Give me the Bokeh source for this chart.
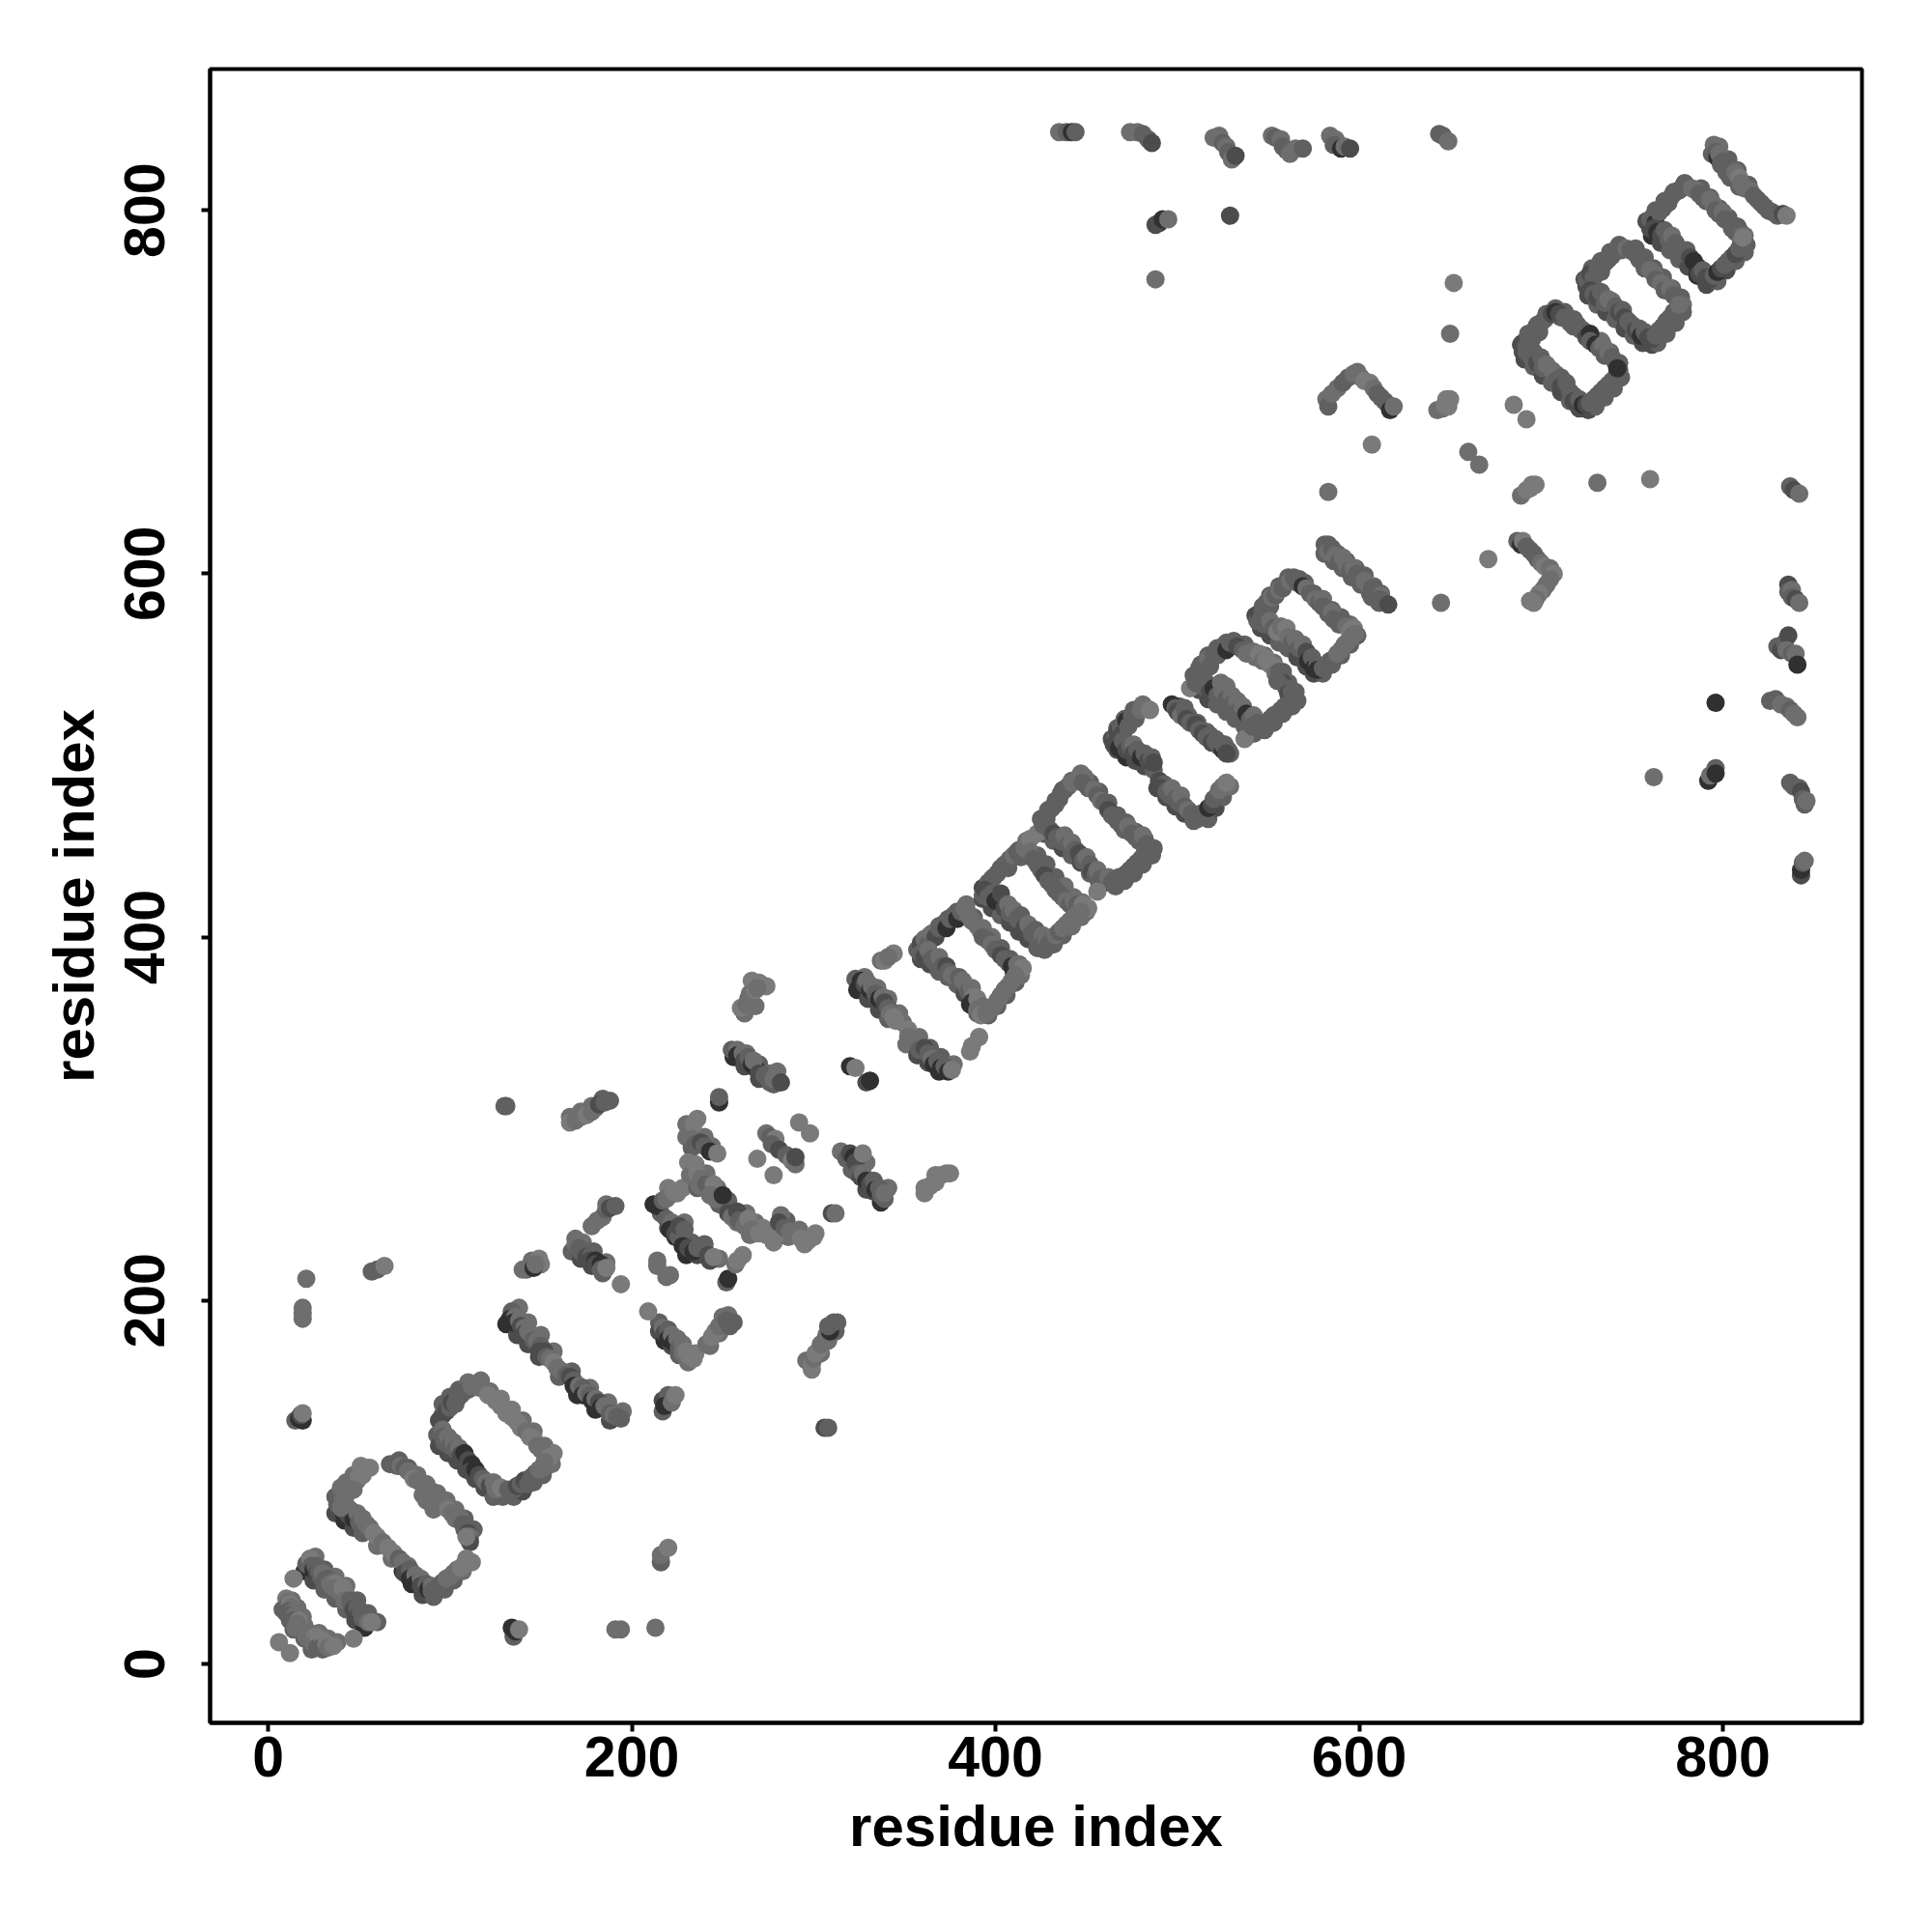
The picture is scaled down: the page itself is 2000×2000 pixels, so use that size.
from bokeh.plotting import figure
from bokeh.embed import file_html
from bokeh.resources import INLINE
from bokeh.models import ColumnDataSource, FixedTicker, LinearColorMapper

axis_title = "residue index"
tick_values = [0, 200, 400, 600, 800]

# (residue x, residue y, contact score 1..5)
under_start = [(8,30,3),(10,28,3),(12,24,3),(14,19,3),(13,35,2),(16,31,2),(19,26,2),(20,21,2),(20,14,3),(24,8,3),(30,8,3),(28,17,2),(33,14,2),(38,12,2),
 (26,59,2),(31,52,3),(37,48,2),(43,43,2),(49,35,3),(55,28,3),(60,23,3),(20,51,5),(25,46,4),(31,41,3),(37,36,3),(43,30,3),(48,24,4),(53,20,5)]
under_hairpins = [(72,112,3),(77,108,3),(82,104,2),(87,99,2),(93,94,2),(98,90,2),(103,85,2),(108,80,3),(113,74,3),
 (37,83,4),(42,79,5),(47,75,4),(52,72,3),(60,65,2),(68,58,2),(74,51,5),(79,44,5),(85,38,4),(91,37,3),
 (37,92,3),(40,97,2),(43,100,2),(47,104,2),(51,109,1),(97,41,3),(102,46,3),(107,51,2),(112,56,1),
 (94,134,4),(96,143,3),(100,147,3),(105,151,3),(110,155,2),
 (117,156,2),(122,150,2),(128,146,1),(134,140,1),(140,134,2),(146,128,2),(152,120,2),(157,116,1),
 (93,126,3),(94,120,4),(99,116,4),(104,112,4),(109,107,4),(114,102,4),(119,97,4),(124,92,3),(129,92,3),
 (135,92,3),(140,95,4),(146,100,3),(151,104,3),(156,110,2),
 (138,196,2),(143,188,2),(150,181,2),(157,172,2),(167,161,3),(177,152,2),(187,144,2),(195,139,2),(131,187,5),(137,181,4),(143,176,4),(149,169,4),(160,158,3),(170,148,5),(180,140,5),(188,134,4)]
under_central = [(166,301,2),(172,304,2),(178,307,2),(184,311,3),(263,336,2),(270,330,3),(276,325,2),(256,334,5),(262,329,4),(270,322,4),(278,319,3),
 (262,358,2),(268,362,2),(274,373,1),(266,376,1),(323,377,3),(328,378,2),(335,372,2),(341,366,2),(347,358,2),(349,353,2),(324,371,5),(330,366,4),(336,360,4),(341,355,3),
 (351,341,2),(358,345,2),(364,339,3),(370,334,3),(377,330,2),(352,349,1),(357,335,4),(363,331,4),(369,326,5),
 (169,234,2),(173,232,2),(179,227,3),(186,221,2),(167,227,3),(172,223,4),(178,219,4),(184,215,3),
 (220,262,1),(228,262,1),(216,248,3),(220,240,4),(224,235,5),(229,243,2),(233,232,3),(230,225,5),(236,225,4),(240,231,3),(248,223,2),(243,222,4),
 (230,297,2),(230,290,2),(233,284,3),(240,290,2),(244,285,2),(231,276,1),(232,269,2),(236,262,3),(241,270,2),(247,262,2),(248,253,3),(253,255,3),(253,248,4),(258,243,2),(263,248,2),(268,243,2),(265,236,2),(272,240,1),(278,232,1),(285,244,3),(286,235,2),(292,239,2),(295,231,1),
 (315,282,2),(318,278,3),(321,272,3),(326,274,3),(329,276,2),(333,260,4),(329,261,4),(337,254,5),(341,262,2),(339,256,3),
 (215,188,3),(215,183,4),(218,178,5),(222,175,4),(226,170,3),(231,166,2),(235,171,1),(234,168,1),(243,175,2),(248,182,2),(253,192,2),(256,188,3),(250,191,2),
 (299,162,1),(296,167,2),(304,171,2),(308,178,2),(312,183,3),(313,188,3)]
under_c_d = [(359,397,3),(364,401,3),(369,406,3),(374,410,3),(379,414,3),(384,418,2),
 (388,411,3),(393,405,2),(398,400,2),(403,394,3),(408,388,3),(413,385,2),
 (359,388,4),(364,385,4),(369,381,3),(374,378,3),(379,374,3),(383,369,4),(386,363,5),(390,358,3),
 (396,357,3),(401,362,3),(406,368,3),(411,375,3),(414,379,2),
 (393,427,4),(398,432,3),(403,438,3),(408,443,3),(413,448,2),(417,453,2),
 (393,421,4),(398,416,4),(403,412,3),(408,408,4),(413,403,4),(418,399,4),(423,394,3),(427,393,3),
 (423,445,3),(428,440,3),(433,433,3),(438,428,2),(443,422,2),(448,419,2),
 (432,396,3),(437,401,3),(442,406,2),(447,411,2),(450,414,2),
 (425,465,3),(429,470,3),(433,475,3),(437,481,3),(442,486,3),(447,490,2),
 (452,485,3),(457,480,3),(462,474,3),(467,467,3),(472,463,3),(477,458,3),(482,454,3),(487,449,3),
 (427,457,4),(432,453,3),(437,449,4),(442,445,3),(447,441,4),(452,435,3),(457,430,3),
 (466,428,3),(471,431,3),(476,435,3),(481,440,3),(486,445,3)]
under_e_f_g = [(464,509,4),(467,515,3),(471,520,3),(476,525,3),(481,528,2),
 (467,503,4),(472,499,5),(477,497,4),(482,494,4),(487,492,3),
 (501,527,3),(506,522,3),(511,518,3),(516,513,3),(521,509,3),(526,506,3),(529,501,3),
 (489,482,4),(494,477,4),(499,472,4),(504,468,4),(509,464,3),
 (517,465,3),(521,471,4),(525,477,3),(529,483,2),
 (509,544,3),(513,550,3),(517,555,3),(522,559,3),(527,562,3),
 (537,561,3),(542,557,2),(548,555,2),(553,551,2),(558,546,3),(561,540,3),(565,535,3),
 (512,536,4),(517,531,4),(522,528,3),(527,524,3),(532,520,3),(537,516,3),(542,512,3),
 (548,514,3),(553,518,3),(558,523,3),(563,527,3),(566,530,3),
 (543,577,4),(547,582,3),(551,588,3),(556,593,3),(561,598,3),
 (570,595,3),(575,589,3),(580,586,3),(585,580,3),(590,576,3),(595,572,2),
 (546,570,4),(551,566,4),(556,562,3),(561,559,3),(566,554,4),(571,549,4),(575,545,4),
 (580,545,3),(585,550,3),(590,555,3),(595,561,3),(599,566,3),
 (583,616,3),(588,611,3),(593,607,3),(598,603,3),(603,599,3),(608,593,3),(612,589,3),(581,611,3),(586,607,3),(591,603,3),(596,598,3),(601,594,3),(606,589,3),(611,584,3)]
under_l_k_j = [(689,726,4),(693,732,3),(698,737,3),(703,743,3),(708,746,3),
 (713,744,3),(718,740,3),(723,734,3),(728,730,3),(733,728,2),(738,722,3),(743,716,3),(743,712,3),
 (691,718,4),(696,714,3),(701,709,4),(706,705,3),(711,700,4),(716,695,3),(721,691,4),(726,690,4),
 (730,692,3),(735,697,3),(740,702,3),(744,708,3),
 (724,762,4),(728,768,3),(733,772,3),(738,777,3),(743,781,3),
 (752,779,3),(757,774,3),(762,768,3),(767,763,3),(772,757,3),(777,752,3),(778,748,2),
 (726,753,4),(731,748,3),(736,744,4),(741,740,3),(746,735,4),(751,731,3),(756,727,4),(761,726,4),
 (764,727,3),(769,732,3),(774,738,3),(778,744,3),
 (758,794,4),(763,800,3),(768,805,3),(773,810,3),(779,815,3),
 (788,812,3),(793,807,3),(798,801,3),(803,796,3),(808,791,3),(812,786,2),
 (761,786,5),(766,782,4),(771,778,3),(776,773,3),(781,769,4),(786,764,5),(791,759,4),
 (797,761,3),(802,767,4),(807,772,3),(812,777,3),(813,781,3),
 (798,835,2),(803,828,3),(808,822,3),(814,814,3),(794,831,3),(799,825,3),(804,818,3),(809,813,3)]
start_cluster = [(6,12,1),(12,6,1),(14,47,1),(47,14,1),
 (10,36,1),(11,34,2),(10,31,3),(12,33,1),(13,31,2),(11,29,3),(14,29,2),(12,27,3),(15,27,2),(16,25,2),(14,24,3),(17,24,1),(16,22,2),(15,20,2),
 (23,17,2),(21,15,2),(24,13,2),(26,15,1),(25,11,2),(28,14,1),(27,9,3),(30,13,1),(29,9,3),(32,11,1),(33,9,2),(36,10,1),
 (21,55,3),(23,58,1),(24,54,3),(25,52,5),(26,54,3),(27,50,4),(28,51,3),(29,48,3),(30,50,2),(31,46,3),(33,47,3),(34,44,2),(36,45,2),(37,44,1),(36,42,2),
 (39,40,2),(41,42,1),(43,38,1),(42,35,2),(45,35,3),(46,32,3),(47,30,4),(49,31,3),(50,27,4),(51,29,3),(52,25,3),(53,26,3),(55,23,2),(57,23,1)]
hairpin_one = [(38,88,3),(40,86,4),(41,84,5),(41,90,2),(43,87,5),(44,82,4),(45,85,2),(47,80,5),(49,83,2),(50,78,3),(52,80,2),(54,77,2),(56,75,2),(58,72,1),(60,70,1),(63,67,2),(66,64,1),(69,61,1),(72,58,3),(74,56,2),(77,54,2),(75,50,4),(78,52,3),(78,47,5),(81,49,2),(81,44,5),(84,47,2),(84,43,4),(87,44,3),(88,41,5),(90,43,2),(90,40,3),(93,42,3),
 (40,86,2),(42,90,2),(43,93,2),(44,95,2),(45,98,2),(47,100,2),(49,101,2),(50,103,1),(52,105,1),(53,107,1),(55,108,1),(56,108,1),(52,104,1),(47,96,2),
 (67,110,3),(69,110,3),(71,109,3),(73,109,2),(75,108,3),(77,106,2),(79,105,2),(80,102,1),(82,101,2),(84,100,2),(86,97,2),(88,95,2),(90,95,2),(85,93,2),(87,90,2),(90,88,2),(91,85,2),(93,88,2),(95,87,2),(97,88,2),(99,85,1),(101,83,2),(103,80,2),(105,81,2),(107,77,3),(108,74,3),(110,72,4),(111,70,2),(111,67,4),(109,70,1),
 (94,43,3),(96,45,3),(98,47,2),(100,48,2),(102,50,2),(104,52,2),(106,53,1),(108,55,1),(109,58,1)]
hairpin_two = [(96,137,4),(97,141,3),(98,139,4),(100,141,3),(101,144,4),(103,143,3),(104,146,3),(106,148,3),(108,150,3),(110,151,3),(112,153,2),(114,154,2),(116,152,2),
 (121,148,1),(125,145,1),(128,142,1),(131,138,1),(134,136,1),(137,133,1),(139,130,1),(142,128,2),(144,125,1),(146,124,1),(148,120,2),(150,118,2),(152,116,2),(155,114,1),(153,112,1),
 (96,129,2),(96,125,3),(97,122,3),(99,125,2),(100,120,3),(102,122,2),(103,118,3),(105,119,2),(106,115,4),(108,116,5),(110,112,4),(112,110,5),(111,106,4),(114,107,5),(116,104,4),(118,102,3),(120,100,2),(122,98,4),(124,100,2),(125,96,2),(128,97,1),
 (132,96,3),(135,96,3),(137,98,4),(139,99,3),(141,101,4),(143,99,3),(145,103,3),(147,105,3),(149,107,2),(151,108,2),(152,111,2)]
strand_three = [(134,194,3),(133,190,5),(136,191,2),(135,188,5),(138,189,2),(139,186,4),(141,185,2),(141,182,4),(143,183,2),(145,181,2),(146,178,3),(148,178,2),(150,175,3),(149,172,4),(152,172,4),(153,169,3),(155,168,2),(157,166,1),(159,163,2),(162,161,2),(164,159,3),(166,158,4),(168,156,3),(168,153,5),(171,153,2),(173,152,3),(173,148,5),(175,149,2),(177,148,3),(178,145,5),(180,146,2),(182,144,4),(183,141,5),(185,142,2),(187,140,2),(188,138,3),(190,137,2),(192,136,3),(194,135,3)]
offdiag_left = [(15,134,3),(19,134,5),(17,135,5),(18,137,4),(19,138,1),(19,190,2),(19,193,2),(19,196,2),(21,212,2),(57,216,3),(60,217,3),(64,219,1),
 (135,15,3),(134,20,5),(136,18,5),(138,19,1),(191,19,2),(194,19,2),(213,20,2),(216,56,3),(216,60,2),(220,64,1),
 (130,307,3),(131,307,3),(306,130,4),(308,130,3)]
central_cluster = [(194,209,1),(209,194,1),(145,222,2),(149,223,1),(150,220,1),(142,217,3),(140,217,2),(146,218,5),(147,220,2),
 (169,231,2),(171,229,3),(172,227,3),(175,227,3),(175,224,4),(178,225,3),(177,222,4),(180,222,5),(180,220,4),(183,220,5),(183,217,3),(186,218,1),
 (178,241,2),(181,244,2),(184,246,2),(186,250,3),(186,253,2),(188,251,4),(191,252,3),
 (212,253,5),(214,252,5),(217,255,3),(219,256,2),(221,258,2),(225,259,1),(223,260,1),
 (219,245,3),(222,243,2),(221,239,5),(224,237,4),(226,235,3),(226,241,4),(229,239,3),
 (228,230,5),(231,229,4),(234,227,5),(236,229,3),(240,228,3),(242,225,4),(245,224,1),
 (214,222,2),(214,219,2),(219,213,2),(221,214,2),(252,210,3),(253,212,5),(257,220,2),(258,222,1),(261,225,1),
 (232,293,2),(234,297,1),(236,300,1),(233,289,2),(235,286,3),(238,287,4),(240,285,3),(243,282,5),(247,281,1),
 (235,275,1),(236,270,1),(238,267,2),(237,263,2),(241,264,3),(245,264,1),(243,258,2),(246,256,2),(250,258,5),
 (255,246,2),(258,249,4),(259,244,3),(262,241,2),(264,245,1),(266,239,2),(270,237,1),(274,236,1),(279,236,1),
 (282,247,2),(281,243,4),(284,240,3),(287,238,2),(290,236,2),(293,234,1),(297,233,1),(300,235,1),(301,237,1),
 (310,248,4),(312,248,2),(320,281,4),(322,279,5),(323,276,4),(327,281,1),(324,270,3),(326,268,4),(327,270,2),(329,266,5),(331,264,4),(333,266,3),(334,261,5),(336,262,3),(337,258,3),(339,259,2),
 (361,259,1),(361,262,1),(364,263,1),(367,265,1),(367,269,1),(370,269,1),(373,270,1),(375,270,1),
 (241,176,2),(244,180,1),(246,183,1),(248,186,2),(250,188,2),(252,189,3),(254,186,3),
 (217,185,2),(218,182,4),(220,184,3),(220,179,5),(222,181,2),(223,177,5),(225,179,2),(226,174,3),(228,176,2),(228,171,2),(230,172,1),(232,169,1),
 (217,139,3),(217,145,4),(220,148,3),(218,142,5),(222,144,2),(224,148,1),
 (299,165,1),(300,168,2),(301,171,1),(303,173,1),(304,176,2),(306,178,2),(307,181,2),(309,183,5),(308,186,3),(311,188,3),
 (248,309,5),(248,312,3)]
upper_cluster = [(166,298,1),(169,299,2),(172,301,2),(175,302,1),(178,304,2),(180,306,2),(182,308,4),(185,309,3),(188,310,3),
 (255,338,3),(258,338,2),(258,335,5),(261,336,2),(262,332,4),(264,334,3),(266,330,5),(268,328,5),(267,332,2),(270,325,4),(273,324,3),(276,320,3),(280,326,2),(278,322,2),(282,320,4),
 (260,361,1),(263,363,2),(264,366,2),(265,369,2),(268,371,1),(270,375,1),(269,372,2),
 (274,292,2),(276,290,3),(279,289,1),(277,286,3),(281,283,4),(285,280,3),(288,277,1),(290,275,2),(290,279,4),(269,278,1),(278,269,1),(292,298,1),(298,292,1),
 (320,329,5),(323,328,1),(329,320,4),(331,321,5),
 (326,376,5),(328,374,4),(329,376,2),(331,371,5),(332,373,2),(334,369,3),(336,366,5),(338,367,2),(339,364,4),(341,361,3),(342,358,2),(344,356,1),(345,354,1),
 (337,387,2),(339,387,1),(344,391,1),(341,389,2),(386,337,1),(387,340,1),(391,345,1),
 (352,345,2),(355,344,2),(358,341,2),(358,338,3),(361,339,4),(363,336,3),(365,333,2),(366,330,5),(368,332,3),(370,328,5),(372,329,3),(374,326,5),(376,327,1)]
rect_c = [(357,393,3),(359,396,4),(361,399,2),(363,396,3),(365,402,2),(367,400,4),(369,405,3),(371,407,3),(373,405,5),(375,410,3),(377,412,3),(379,410,5),(381,414,3),(383,416,2),(385,413,2),
 (385,412,2),(387,409,2),(390,406,2),(392,403,2),(393,400,3),(396,398,3),(398,396,2),(400,393,3),(402,393,3),(403,390,4),(405,388,3),(407,386,3),(409,384,5),(410,381,5),(412,385,2),(415,383,1),
 (359,391,3),(361,389,4),(363,393,2),(365,388,3),(367,386,3),(369,389,2),(371,384,3),(373,384,4),(374,381,3),(376,379,2),(380,378,3),(382,376,2),(384,373,2),(385,370,3),(387,372,2),(388,367,1),(387,364,5),(390,366,1),(390,360,2),(393,362,2),(392,357,1),
 (395,358,2),(397,360,2),(399,362,2),(401,365,2),(403,368,2),(405,371,2),(407,373,2),(409,376,2),(411,379,2)]
rect_d = [(393,423,3),(394,427,4),(396,430,3),(397,427,3),(399,433,3),(401,435,3),(403,438,3),(405,440,3),(407,438,3),(408,443,3),(410,445,2),(412,447,3),(414,444,3),(416,449,2),(417,450,2),(419,454,1),
 (394,426,4),(396,422,3),(398,424,3),(400,420,5),(403,424,4),(405,416,4),(407,418,2),(408,413,3),(410,415,2),(412,410,3),(414,412,3),(416,405,4),(418,407,2),(420,402,3),(422,404,3),(423,399,3),(426,401,2),(426,396,3),(428,398,2),
 (419,447,2),(421,443,3),(423,440,3),(425,437,3),(427,434,4),(429,431,3),(431,429,3),(433,426,3),(435,424,3),(437,422,3),(439,420,2),(441,418,3),(443,420,2),(445,418,3),(448,418,1),(451,416,1),
 (429,396,3),(431,398,3),(433,401,2),(435,403,3),(437,405,2),(439,407,2),(441,409,2),(443,411,2),(445,413,2),(447,414,2),(423,457,1),
 (426,462,3),(428,465,3),(429,469,3),(431,471,3),(433,473,3),(435,476,3),(436,479,3),(438,481,3),(440,483,3),(442,485,2),(444,486,2),(446,488,2),(449,488,2),
 (448,485,3),(451,482,3),(454,481,2),(456,478,3),(458,475,2),(460,474,3),(462,470,4),(464,467,3),(467,464,3),(469,462,3),(471,459,3),(473,461,2),(475,457,3),(477,455,3),(479,453,3),(481,456,2),(483,451,3),(485,449,3),(486,446,3),
 (428,461,3),(430,459,3),(432,457,4),(434,455,3),(436,453,3),(438,456,2),(440,451,3),(442,452,2),(444,448,3),(446,446,4),(448,442,3),(450,444,2),(452,440,3),(453,436,4),(455,434,3),(456,437,2),(458,432,3),(460,430,3),(462,433,2),
 (464,430,3),(466,432,3),(468,433,3),(470,431,3),(472,435,3),(474,437,3),(476,439,3),(478,441,3),(480,443,3),(482,446,3),(484,447,3),(456,425,1)]
rect_e = [(465,506,4),(466,510,3),(467,513,4),(469,516,3),(470,512,4),(472,519,5),(473,516,3),(475,522,3),(477,520,3),(478,524,3),(480,525,2),(483,526,2),(485,525,1),
 (466,507,4),(468,504,5),(470,508,3),(472,503,4),(474,505,3),(476,506,2),(476,501,4),(478,503,3),(480,499,5),(482,501,3),(484,497,4),(486,499,3),(487,496,4),
 (497,528,5),(499,526,3),(500,524,4),(502,522,2),(504,526,3),(505,520,4),(507,518,3),(510,517,4),(512,514,3),(514,512,4),(516,510,3),(518,511,3),(519,507,4),(521,508,3),(523,505,3),(525,503,5),(525,506,3),(528,503,3),(527,501,4),
 (490,486,4),(493,484,3),(491,482,4),(494,480,3),(496,478,3),(497,482,2),(499,476,3),(501,474,3),(502,478,2),(504,472,3),(506,470,2),(508,468,3),(510,466,3),(511,465,3),(513,468,3),
 (514,466,3),(516,468,3),(517,471,5),(519,473,4),(520,476,3),(522,478,3),(523,481,2),(525,483,2),(527,485,1),(507,537,1),(537,509,1)]
rect_f = [(510,540,3),(511,544,3),(512,548,3),(514,546,3),(515,551,3),(517,553,2),(518,549,3),(520,556,3),(522,555,3),(523,558,3),(525,560,3),(527,558,5),(529,562,3),(531,563,3),(534,561,3),
 (533,560,4),(536,558,3),(538,556,2),(541,557,2),(543,554,2),(545,556,1),(547,552,2),(549,553,1),(551,550,1),(553,549,1),(554,545,2),(556,546,3),(558,540,4),(555,541,3),(560,537,3),(561,534,4),(563,535,3),(564,531,3),
 (512,541,3),(514,538,3),(516,540,3),(518,535,4),(520,537,5),(522,533,3),(524,540,2),(525,535,2),(527,538,2),(527,531,3),(530,533,2),(530,528,3),(533,530,2),(534,525,3),(536,527,2),(538,523,5),(540,520,3),(542,522,2),(544,518,3),(541,516,3),
 (545,515,3),(547,517,3),(549,518,3),(551,520,3),(553,522,3),(555,523,3),(557,525,3),(559,527,3),(562,529,3),(564,530,3)]
rect_g = [(544,574,3),(545,578,4),(547,580,3),(549,584,3),(551,582,3),(552,587,2),(554,588,3),(556,591,2),(558,592,3),(560,595,3),(562,596,2),(564,598,3),(567,597,3),
 (566,595,3),(569,593,5),(571,592,2),(573,589,3),(576,586,2),(578,584,3),(580,586,2),(580,582,3),(583,578,3),(585,579,2),(586,575,3),(589,572,3),(591,574,3),(593,571,2),(595,568,1),(597,570,1),(597,566,5),
 (546,575,3),(548,572,3),(551,574,2),(553,570,3),(555,568,1),(557,571,2),(560,570,1),(561,565,2),(563,562,3),(565,564,2),(567,559,3),(569,561,2),(571,557,4),(572,552,5),(574,554,3),(575,548,5),(577,550,3),
 (577,547,5),(580,548,3),(582,550,3),(584,552,3),(586,553,3),(588,556,2),(590,558,2),(592,561,2),(594,563,2),(596,565,2),(598,567,2),
 (581,616,3),(583,612,2),(585,614,3),(587,610,2),(589,607,3),(591,609,2),(593,605,2),(595,602,3),(597,603,2),(599,600,3),(601,598,3),(603,596,2),(605,594,2),(607,592,3),(609,590,3),(607,587,3),(612,588,2),(611,586,3),(613,585,3),(616,583,4)]
mid_right = [(583,645,2),(582,696,2),(583,692,3),(585,699,2),(588,702,2),(591,705,3),(594,708,3),(597,710,2),(599,711,2),(601,708,2),(603,706,1),(606,705,1),(608,702,2),(610,699,3),(612,697,3),(614,695,3),(616,693,3),(617,690,5),(619,692,2),
 (607,671,1),(652,760,1),(650,732,2),(660,667,2),(666,660,2),(685,693,1),(692,685,1),(731,650,2),(760,652,1),(671,608,1),(645,584,2),
 (643,690,2),(646,691,2),(647,693,1),(648,696,1),(650,696,1),(649,692,1),
 (689,643,2),(692,646,1),(694,647,1),(695,649,1),(697,649,1),
 (687,618,3),(689,616,5),(690,618,1),(692,615,3),(694,613,3),(696,611,3),(698,608,3),(700,606,2),(702,604,1),(705,603,2),(707,600,1),
 (705,597,2),(703,594,2),(701,591,2),(699,589,1),(697,586,2),(694,585,1),(696,584,1)]
rect_l = [(690,722,4),(690,727,4),(692,725,3),(693,731,3),(695,729,3),(697,735,3),(699,733,3),(700,738,3),(702,740,3),(704,742,3),(706,743,4),(708,744,5),(711,741,3),
 (710,743,4),(713,741,3),(716,738,3),(718,736,3),(720,737,3),(722,734,3),(725,730,4),(727,732,5),(727,728,3),(730,726,5),(732,724,3),(734,726,2),(735,720,3),(737,722,2),(739,719,3),(741,716,3),
 (692,722,3),(694,720,3),(696,722,3),(698,716,4),(700,719,3),(701,713,3),(703,715,2),(706,712,2),(708,710,2),(708,706,3),(711,708,3),(711,703,4),(714,705,3),(716,700,3),(718,698,3),(718,695,4),(721,696,3),(723,693,5),(725,693,4),
 (727,694,3),(729,696,3),(731,698,3),(733,700,3),(735,702,3),(737,704,3),(739,706,3),(741,708,3),(742,711,3),(742,713,5)]
rect_k = [(725,758,4),(725,762,3),(727,765,4),(729,763,3),(731,768,3),(733,766,3),(735,771,3),(737,773,3),(739,775,3),(741,778,3),(744,778,3),(747,779,2),
 (749,778,3),(752,776,3),(754,773,3),(756,771,3),(757,768,3),(760,767,2),(762,765,2),(763,762,3),(766,760,2),(768,756,3),(771,757,2),(773,753,3),(775,751,3),
 (727,756,4),(729,754,3),(731,752,4),(733,755,3),(735,749,3),(737,751,2),(739,750,2),(741,747,3),(743,744,4),(745,745,3),(746,741,4),(748,739,3),(750,737,3),(752,734,4),(754,735,3),(755,731,5),(757,733,3),(759,730,4),
 (761,729,4),(763,731,3),(765,734,3),(767,736,3),(769,739,3),(771,741,3),(773,744,3),(775,746,3),(776,748,2)]
rect_j = [(760,790,4),(760,795,3),(762,797,3),(763,793,5),(765,799,3),(767,801,3),(768,805,3),(770,804,3),(772,808,3),(774,810,3),(776,811,3),(778,813,3),(781,813,3),(783,812,2),
 (785,811,2),(787,809,3),(789,807,3),(791,805,3),(793,806,2),(795,803,2),(796,800,3),(798,798,3),(800,799,2),(801,795,3),(804,793,3),(805,790,3),(807,788,3),(809,789,3),(811,786,2),(810,783,2),
 (762,790,4),(764,788,5),(766,786,4),(768,789,3),(770,784,3),(772,786,2),(774,782,3),(776,779,3),(778,776,3),(780,778,3),(782,774,4),(784,772,5),(786,769,5),(787,765,4),(789,767,3),(791,763,4),(793,762,4),
 (795,764,3),(797,766,5),(799,768,4),(801,770,3),(803,772,3),(805,774,3),(807,776,4),(809,779,3),(811,781,3),(811,785,1)]
strand_i = [(795,836,2),(796,832,3),(797,829,5),(798,831,2),(799,826,3),(801,827,3),(803,824,3),(802,821,3),(805,822,3),(807,821,2),(809,818,1),(810,815,2),(812,812,2),(815,811,2),(817,808,3),(819,806,3),(821,804,3),(823,802,3),(825,800,3),(827,799,3),(830,797,3),(833,798,4),(835,797,1)]
top_row = [(435,843,2),(439,843,3),(442,843,5),(444,843,3),(474,843,2),(478,843,2),(481,842,3),(484,839,3),(486,837,4),
 (520,840,2),(523,841,2),(525,837,3),(527,835,2),(528,832,3),(530,828,2),(532,830,4),
 (552,841,2),(554,840,3),(557,839,2),(558,835,3),(560,833,3),(562,831,2),(565,834,2),(569,834,3),
 (584,841,2),(587,839,2),(586,836,3),(590,834,5),(592,835,2),(595,834,4),
 (644,842,3),(646,841,3),(649,838,2),(490,793,5),(488,792,4),(492,795,5),(495,795,2),(529,797,4),(488,762,2)]
right_col = [(837,648,3),(839,646,4),(842,644,2),(836,594,4),(836,590,3),(838,591,2),(838,587,3),(840,586,4),(842,584,2),
 (830,560,3),(832,558,4),(834,562,3),(836,566,4),(835,558,2),(838,556,3),(840,556,2),(841,550,5),
 (826,530,3),(829,531,3),(832,528,2),(835,527,2),(837,525,3),(839,523,2),(841,521,2),
 (796,529,5),(796,493,3),(792,486,5),(793,489,2),(796,490,5),(762,488,2),
 (837,485,3),(839,483,3),(842,482,3),(843,480,4),(844,476,3),(845,473,3),(846,475,2),
 (843,434,4),(843,437,5),(844,441,3),(845,442,2)]

groups = [under_start, under_hairpins, under_central, under_c_d, under_e_f_g, under_l_k_j,
          start_cluster, hairpin_one, hairpin_two, strand_three, offdiag_left, central_cluster,
          upper_cluster, rect_c, rect_d, rect_e, rect_f, rect_g, mid_right, rect_l, rect_k,
          rect_j, strand_i, top_row, right_col]
points = [pt for g in groups for pt in g]
source = ColumnDataSource(dict(x=[a for a, _, _ in points],
                               y=[b for _, b, _ in points],
                               score=[c for _, _, c in points]))

p = figure(width=1990, height=1990, output_backend="svg", toolbar_location=None,
           x_range=(-31.9, 876.5), y_range=(-32.4, 877.7),
           min_border_left=217, min_border_right=63, min_border_top=71, min_border_bottom=207,
           background_fill_color="white", border_fill_color="white")
mapper = LinearColorMapper(palette=["#7a7a7a", "#6e6e6e", "#606060", "#4c4c4c", "#303030"], low=1, high=5)
p.scatter("x", "y", source=source, size=19, marker="circle",
          fill_color={"field": "score", "transform": mapper}, line_color=None)

p.grid.visible = False
p.outline_line_color = "black"
p.outline_line_width = 4
p.outline_line_alpha = 1
for ax in (p.xaxis[0], p.yaxis[0]):
    ax.ticker = FixedTicker(ticks=tick_values)
    ax.axis_label = axis_title
    ax.axis_label_text_font = "Liberation Sans"
    ax.axis_label_text_font_style = "bold"
    ax.axis_label_text_font_size = "60px"
    ax.axis_label_text_color = "black"
    ax.major_label_text_font = "Liberation Sans"
    ax.major_label_text_font_style = "bold"
    ax.major_label_text_font_size = "59px"
    ax.major_label_text_color = "black"
    ax.axis_line_color = "black"
    ax.axis_line_width = 4
    ax.major_tick_line_color = "black"
    ax.major_tick_line_width = 4
    ax.major_tick_out = 9
    ax.major_tick_in = 0
    ax.minor_tick_line_color = None
p.yaxis[0].major_label_orientation = "vertical"
p.xaxis[0].major_label_standoff = 5
p.yaxis[0].major_label_standoff = 38
p.xaxis[0].axis_label_standoff = 15
p.yaxis[0].axis_label_standoff = 17

open("out.html", "w").write(file_html(p, INLINE))
